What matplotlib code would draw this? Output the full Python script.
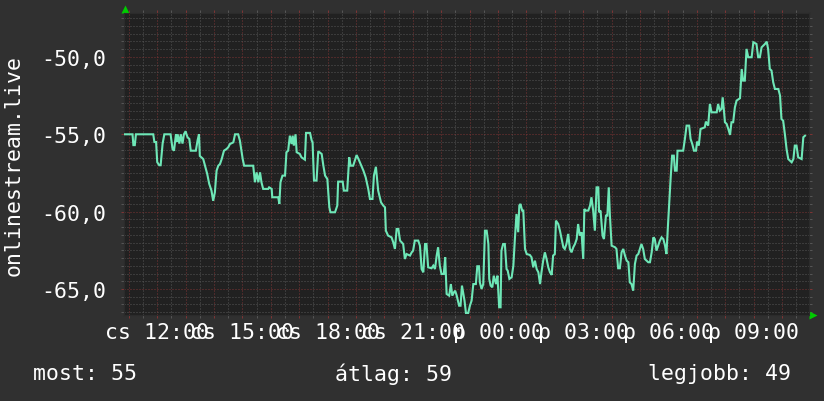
import matplotlib
matplotlib.use("Agg")
import matplotlib.pyplot as plt
from matplotlib.ticker import MultipleLocator, FuncFormatter

# time in hours from Thursday 00:00, value in dB
hours = [
    10.86, 11.13, 11.16, 11.21, 11.25, 11.86, 11.90, 11.96, 12.00, 12.07, 12.12, 12.19, 12.25, 12.47,
    12.54, 12.59, 12.66, 12.68, 12.72, 12.78, 12.83, 12.89, 12.94, 13.00, 13.03, 13.07, 13.13, 13.18,
    13.36, 13.42, 13.47, 13.50, 13.56, 13.62, 13.68, 13.76, 13.83, 13.91, 13.97, 14.03, 14.09, 14.15,
    14.21, 14.27, 14.35, 14.44, 14.50, 14.56, 14.68, 14.74, 14.85, 14.91, 15.01, 15.06, 15.38, 15.44,
    15.50, 15.56, 15.62, 15.67, 15.73, 15.91, 15.94, 16.03, 16.05, 16.26, 16.30, 16.34, 16.41, 16.50,
    16.55, 16.61, 16.67, 16.73, 16.77, 16.81, 16.87, 16.91, 17.02, 17.08, 17.20, 17.24, 17.38, 17.44,
    17.47, 17.52, 17.61, 17.67, 17.79, 17.85, 17.91, 17.99, 18.06, 18.10, 18.26, 18.34, 18.37, 18.53,
    18.57, 18.69, 18.76, 18.81, 18.90, 19.02, 19.11, 19.16, 19.26, 19.34, 19.43, 19.49,
    19.58, 19.63, 19.70, 19.78, 19.88, 19.96, 20.02, 20.05, 20.13, 20.25, 20.31, 20.37, 20.43, 20.49,
    20.55, 20.66, 20.72, 20.78, 20.90, 20.96, 21.01, 21.07, 21.19, 21.25, 21.31, 21.37, 21.43, 21.48,
    21.54, 21.66, 21.72, 21.78, 21.84, 21.89, 21.95, 22.01, 22.09, 22.14, 22.19, 22.28, 22.34, 22.39,
    22.45, 22.49, 22.54, 22.58, 22.63, 22.68, 22.73, 22.79, 22.82, 22.87, 22.95, 23.01, 23.07, 23.13,
    23.22, 23.27, 23.33, 23.36, 23.42, 23.48, 23.54, 23.60, 23.66, 23.69, 23.74, 23.80, 23.85, 23.93,
    23.98, 24.04, 24.09, 24.12, 24.18, 24.24, 24.30, 24.34, 24.40, 24.48, 24.54, 24.59, 24.65, 24.71,
    24.75, 24.79, 24.85, 24.89, 24.95, 25.01, 25.12, 25.18, 25.24, 25.30, 25.36, 25.42, 25.48, 25.53,
    25.59, 25.65, 25.71, 25.77, 25.83, 25.89, 25.94, 26.00, 26.04, 26.12, 26.18, 26.24, 26.30, 26.35,
    26.41, 26.47, 26.53, 26.59, 26.65, 26.71, 26.77, 26.82, 26.88, 26.94, 27.00, 27.04, 27.09, 27.18,
    27.24, 27.29, 27.35, 27.41, 27.47, 27.53, 27.56, 27.61, 27.68, 27.73, 27.80, 27.85, 27.90, 27.94,
    28.00, 28.12, 28.17, 28.23, 28.29, 28.35, 28.41, 28.47, 28.53, 28.59, 28.64, 28.70, 28.76, 28.82,
    28.88, 28.94, 29.05, 29.11, 29.17, 29.29, 29.35, 29.41, 29.47, 29.52, 29.58, 29.64, 29.70, 29.76,
    29.82, 29.88, 29.93, 29.99,
    30.08, 30.13, 30.19, 30.23, 30.29, 30.32, 30.52, 30.58, 30.64, 30.73, 30.78, 30.84, 30.90, 30.97,
    31.01, 31.07, 31.13, 31.28, 31.32, 31.40, 31.46, 31.52, 31.70, 31.75, 31.81, 31.87, 31.91, 31.95,
    31.99, 32.05, 32.11, 32.17, 32.22, 32.28, 32.34, 32.40, 32.52, 32.58, 32.63, 32.69, 32.75, 32.81,
    32.93, 32.99, 33.10, 33.16, 33.22, 33.28, 33.40, 33.46, 33.51, 33.57, 33.63, 33.69, 33.75, 33.87,
    33.93, 33.98, 34.04, 34.10, 34.16, 34.22, 34.34, 34.40, 34.45, 34.51, 34.57, 34.69, 34.75, 34.81,
]
values = [
    -55.0, -55.0, -55.7, -55.7, -55.0, -55.0, -55.5, -55.5, -56.8, -57.0, -57.0, -55.6, -55.0, -55.0,
    -55.95, -56.06, -55.0, -55.5, -55.0, -55.6, -55.0, -55.6, -55.0, -54.8, -55.0, -55.2, -55.3, -56.06,
    -56.06, -55.4, -55.0, -56.4, -56.5, -56.6, -57.0, -57.56, -58.2, -58.64, -59.3, -58.75, -57.35, -57.03,
    -56.92, -56.6, -56.06, -55.95, -55.84, -55.63, -55.52, -55.0, -55.0, -55.4, -56.6, -57.03, -57.03, -58.1,
    -57.46, -58.1, -57.46, -58.1, -58.53, -58.53, -58.43, -58.53, -59.07, -59.07, -59.5, -58.1, -57.67, -57.67,
    -56.16, -56.06, -55.09, -55.63, -55.09, -55.73, -55.0, -56.16, -56.27, -56.49, -56.64, -54.91, -54.91, -55.41,
    -55.52, -57.99, -57.99, -56.1, -56.27, -57.03, -57.67, -57.89, -59.72, -60.04, -60.04, -59.61, -58.06, -58.06,
    -58.64, -58.64, -56.49, -57.03, -57.03, -56.34, -56.7, -56.92, -57.35, -57.78, -58.53, -59.18,
    -59.18, -57.67, -57.1, -58.64, -59.4, -59.61, -59.72, -61.23, -61.55, -61.66, -61.98, -62.41, -61.12, -61.12,
    -61.87, -62.09, -63.06, -62.74, -62.84, -62.63, -62.52, -61.87, -61.87, -62.2, -63.71, -63.92, -62.09, -62.09,
    -63.6, -63.66, -63.49, -63.71, -62.84, -62.3, -63.49, -64.03, -64.03, -62.95, -65.32, -65.43, -64.68, -65.43,
    -65.21, -65.11, -65.39, -65.69, -66.08, -66.08, -64.78, -65.43, -65.75, -66.55, -66.55, -66.08, -65.75, -64.68,
    -64.68, -63.53, -63.53, -64.57, -65.0, -64.68, -61.23, -61.23, -62.09, -64.35, -64.78, -64.89, -64.14, -64.68,
    -64.14, -66.18, -66.18, -62.52, -62.09, -62.09, -63.71, -63.81, -64.35, -64.24, -63.49, -61.87, -60.15, -61.33,
    -59.61, -59.5, -59.93, -59.93, -62.41, -62.74, -62.8, -62.95, -63.6, -63.17, -63.71, -63.92, -64.68, -63.92,
    -63.17, -62.63, -63.06, -63.6, -63.92, -64.09, -62.84, -62.74, -60.58, -60.8, -61.23, -61.77, -62.3, -62.41,
    -62.09, -61.44, -62.41, -62.63, -62.3, -62.09, -61.77, -60.8, -61.55, -61.33, -63.06, -59.83, -59.93, -59.93,
    -59.61, -59.07, -59.93, -61.23, -58.43, -58.43, -60.04, -59.93, -61.55, -61.77, -60.26, -60.26, -58.43, -60.26,
    -62.2, -62.3, -62.41, -63.66, -63.66, -62.63, -62.41, -62.84, -63.17, -63.27, -64.57, -64.68, -65.11, -63.38,
    -62.84, -62.74, -62.09, -62.41, -63.06, -63.27, -63.27, -62.63, -61.66, -61.77, -62.52, -62.2, -61.87, -61.66,
    -61.77, -62.2, -62.74, -60.69,
    -57.78, -56.38, -56.38, -57.35, -57.35, -56.06, -56.06, -55.3, -54.44, -54.44, -55.3, -55.63, -56.06, -56.06,
    -55.47, -55.73, -54.66, -54.55, -54.18, -54.44, -53.04, -53.58, -53.58, -53.04, -53.47, -53.36, -52.61, -53.36,
    -54.22, -54.33, -54.66, -55.04, -54.22, -54.22, -53.26, -52.82, -52.67, -50.78, -51.53, -51.53, -49.48, -50.02,
    -50.02, -49.05, -49.16, -50.02, -50.02, -49.38, -49.16, -49.01, -49.48, -50.78, -50.88, -51.64, -52.07, -52.07,
    -52.5, -54.01, -54.12, -54.98, -55.95, -56.6, -56.81, -56.6, -55.73, -55.73, -56.49, -56.6, -55.19, -55.09,
]

tick_names = {12: "cs 12:00", 15: "cs 15:00", 18: "cs 18:00", 21: "cs 21:00",
              24: "p 00:00", 27: "p 03:00", 30: "p 06:00", 33: "p 09:00"}
legend_items = [("most", 55), ("átlag", 59), ("legjobb", 49)]
y_title = "onlinestream.live"

BG = '#303030'
PLOT_BG = '#212121'
MAJOR = '#7c3434'
MINOR = '#555555'
LINE = '#6ee7b7'

plt.rcParams['font.family'] = 'DejaVu Sans Mono'

fig = plt.figure(figsize=(8.24, 4.02), dpi=100, facecolor=BG)
ax = fig.add_axes([124 / 824, 86 / 402, 685 / 824, 302 / 402])
ax.set_facecolor(PLOT_BG)

ax.plot(hours, values, color=LINE, lw=1.5, solid_joinstyle='miter', zorder=3)

ax.set_xlim(10.83, 34.95)
ax.set_ylim(-66.68, -47.16)

ax.xaxis.set_major_locator(MultipleLocator(1))
ax.xaxis.set_minor_locator(MultipleLocator(0.5))
ax.yaxis.set_major_locator(MultipleLocator(5))
ax.yaxis.set_minor_locator(MultipleLocator(0.5))
ax.xaxis.set_major_formatter(FuncFormatter(lambda v, p: tick_names.get(int(round(v)), "")))
ax.yaxis.set_major_formatter(FuncFormatter(lambda v, p: f"{v:.1f}".replace('.', ',')))

ax.set_axisbelow(True)
ax.grid(which='major', color=MAJOR, lw=0.72, linestyle=(0, (1, 2)))
ax.grid(which='minor', color=MINOR, lw=0.72, linestyle=(0, (1, 2)))

ax.tick_params(which='both', direction='out', length=2, width=0.72,
               top=True, right=True, labelsize=15.5, labelcolor='white')
ax.tick_params(which='major', color=MAJOR)
ax.tick_params(which='minor', color=MINOR)
ax.tick_params(axis='y', pad=11)
ax.tick_params(axis='x', pad=3)

for s in ax.spines.values():
    s.set_color('#2b2b2b')

# rrdtool-style axis arrows
ax.plot([0.0015], [1.014], marker='^', ms=6, color='#00cc00', transform=ax.transAxes,
        clip_on=False, mec='none')
ax.plot([1.006], [0.0], marker='>', ms=6, color='#00cc00', transform=ax.transAxes,
        clip_on=False, mec='none')

fig.text(14 / 824, 1 - 165 / 402, y_title, rotation=90, color='white', fontsize=15.5,
         ha='center', va='center')

ly = 1 - 374 / 402
fig.text(33 / 824, ly, f"{legend_items[0][0]}: {legend_items[0][1]}", color='white',
         fontsize=15.5, ha='left', va='center')
fig.text(335 / 824, ly, f"{legend_items[1][0]}: {legend_items[1][1]}", color='white',
         fontsize=15.5, ha='left', va='center')
fig.text(791 / 824, ly, f"{legend_items[2][0]}: {legend_items[2][1]}", color='white',
         fontsize=15.5, ha='right', va='center')

fig.savefig("out.png", dpi=100, facecolor=BG)
